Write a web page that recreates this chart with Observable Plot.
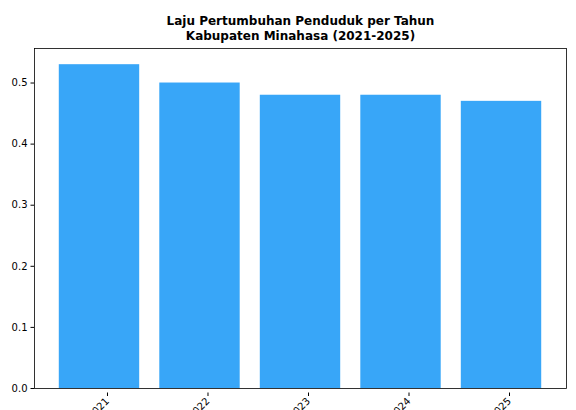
<!DOCTYPE html>
<html>
<head>
<meta charset="utf-8">
<script src="https://cdn.jsdelivr.net/npm/d3@7"></script>
<script src="https://cdn.jsdelivr.net/npm/@observablehq/plot@0.6"></script>
<style>
  html, body { margin: 0; padding: 0; background: #fff; }
  #chart { width: 576px; height: 410px; overflow: hidden; }
</style>
</head>
<body>
<div id="chart"></div>
<script>
const years = ["2021", "2022", "2023", "2024", "2025"];
const rates = [0.53, 0.50, 0.48, 0.48, 0.47];
const yTicks = [0, 0.1, 0.2, 0.3, 0.4, 0.5];
const titleText = "Laju Pertumbuhan Penduduk per Tahun\nKabupaten Minahasa (2021-2025)";

const data = years.map((y, i) => ({year: y, rate: rates[i]}));

const chart = Plot.plot({
  width: 576,
  height: 410,
  marginLeft: 34,
  marginRight: 10,
  marginTop: 48,
  marginBottom: 22,
  style: {fontFamily: "DejaVu Sans", fontSize: "10px", color: "#000", background: "#fff", overflow: "visible"},
  x: {domain: years, paddingInner: 0.2, paddingOuter: 0.2466, align: 0.5, round: false, label: null},
  y: {domain: [0, 0.5565], label: null},
  marks: [
    Plot.barY(data, {x: "year", y: "rate", fill: "#38a6f8"}),
    Plot.axisY({ticks: yTicks, tickFormat: d3.format(".1f"), tickSize: 3.5, tickPadding: 3.5, stroke: "#000", fill: "#000", fontSize: 10, label: null}),
    Plot.axisX({tickSize: 3.5, tickPadding: 3, tickRotate: -45, dx: 8, dy: 4.5, stroke: "#000", fill: "#000", fontSize: 10, label: null}),
    Plot.frame({stroke: "#000", strokeWidth: 0.8}),
    Plot.text([titleText], {frameAnchor: "top", text: d => d, dy: -9, lineAnchor: "bottom", lineHeight: 1.25, fontWeight: "bold", fontSize: 12, fill: "#000"})
  ]
});
document.getElementById("chart").appendChild(chart);
</script>
</body>
</html>
